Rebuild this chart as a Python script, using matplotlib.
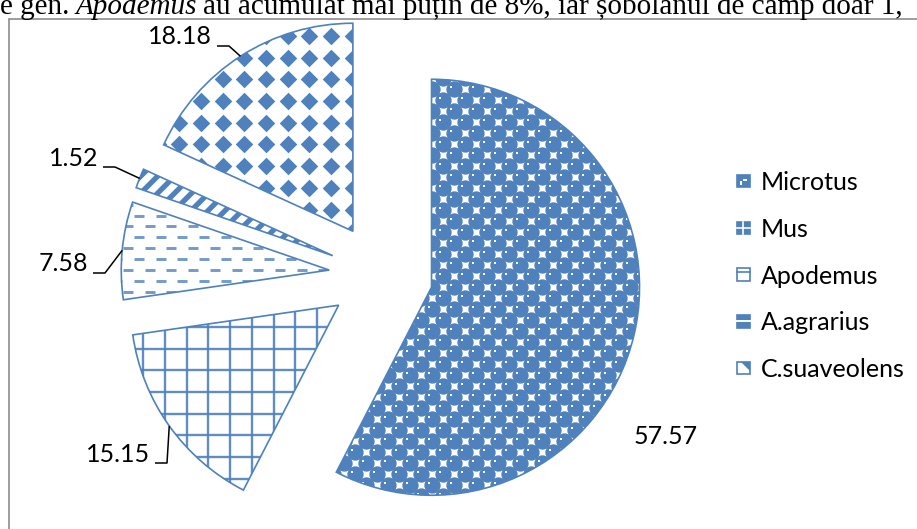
import numpy as np
import matplotlib
matplotlib.use('Agg')
import matplotlib.pyplot as plt
from matplotlib.patches import Wedge, Patch, Rectangle, Polygon
from matplotlib.lines import Line2D
from matplotlib.collections import LineCollection
from matplotlib.legend_handler import HandlerBase

# share of each genus in the sample (%)
species = ['Microtus', 'Mus', 'Apodemus', 'A.agrarius', 'C.suaveolens']
shares = [57.57, 15.15, 7.58, 1.52, 18.18]
value_labels = ['57.57', '15.15', '7.58', '1.52', '18.18']

BLUE = '#4F81BD'
W, H = 917, 529
PX = 1 / 208.0          # one pixel in data units, pie radius is 1
CX, CY = 381, 275       # pie centre in pixels
LABEL_FONT = 'Lato'


def to_data(px, py):
    return (px - CX) * PX, (CY - py) * PX


fig = plt.figure(figsize=(W / 100, H / 100), dpi=100)
ax = fig.add_axes([0, 0, 1, 1])

wedges, _ = ax.pie(shares, explode=[0.25] * len(shares), startangle=90,
                   counterclock=False, radius=1,
                   wedgeprops=dict(facecolor='white', edgecolor='none', linewidth=0))
ax.set_aspect('auto')
ax.set_xlim(-CX * PX, (W - CX) * PX)
ax.set_ylim((CY - H) * PX, CY * PX)
ax.axis('off')


def grid(step):
    n = int(1.1 / step) + 2
    k = np.arange(-n, n + 1)
    gx, gy = np.meshgrid(k, k)
    return gx.ravel(), gy.ravel()


# Microtus: blue spheres on a checker lattice
w = wedges[0]
cell = 11 * PX
gx, gy = grid(cell)
m = (gx + gy) % 2 == 0
xs = w.center[0] + gx[m] * cell
ys = w.center[1] + gy[m] * cell
sc = ax.scatter(xs, ys, s=138, marker='o', color=BLUE, linewidths=0, zorder=2)
sc.set_clip_path(w)
hl = ax.scatter(xs - 2.5 * PX, ys + 2.5 * PX, s=4, marker='s', color='white',
                linewidths=0, zorder=2)
hl.set_clip_path(w)

# Mus: square grid
w = wedges[1]
step = 21.7 * PX
k = np.arange(-12, 13)
cx, cy = w.center
segs = [[(cx + i * step, cy - 1.1), (cx + i * step, cy + 1.1)] for i in k]
segs += [[(cx - 1.1, cy + i * step), (cx + 1.1, cy + i * step)] for i in k]
lc = LineCollection(segs, colors=BLUE, linewidths=1.7, alpha=0.9, zorder=2)
ax.add_collection(lc)
lc.set_clip_path(w)

# Apodemus: dashed horizontal rows
w = wedges[2]
cx, cy = w.center
row = 10.9 * PX
period = 21.7 * PX
dash = 10 * PX
segs = []
for j in range(-100, 101):
    y = cy + j * row
    x0 = cx - 1.2 + (j % 2) * period / 2
    for i in range(int(2.4 / period) + 2):
        x = x0 + i * period
        segs.append([(x, y), (x + dash, y)])
lc = LineCollection(segs, colors=BLUE, linewidths=2.1, alpha=0.8, zorder=2)
ax.add_collection(lc)
lc.set_clip_path(w)

# A.agrarius: wide upward diagonal stripes
w = wedges[3]
cx, cy = w.center
gap = 12 * np.sqrt(2) * PX
segs = [[(cx - 1.2, cy - 1.2 + i * gap), (cx + 1.2, cy + 1.2 + i * gap)]
        for i in range(-40, 41)]
lc = LineCollection(segs, colors=BLUE, linewidths=3.8, zorder=2)
ax.add_collection(lc)
lc.set_clip_path(w)

# C.suaveolens: diamonds on a square grid
w = wedges[4]
step = 21.7 * PX
gx, gy = grid(step)
sc = ax.scatter(w.center[0] + gx * step, w.center[1] + gy * step, s=80,
                marker='D', color=BLUE, linewidths=0, zorder=2)
sc.set_clip_path(w)

# slice outlines on top of the textures
for w in wedges:
    ax.add_patch(Wedge(w.center, w.r, w.theta1, w.theta2, fill=False,
                       edgecolor=BLUE, linewidth=1.2, zorder=4))

# value labels, with leader lines for the small outer slices
label_pos = [(634, 436), (150, 454), (88, 264), (98, 158), (212, 37)]
label_ha = ['left', 'right', 'right', 'right', 'right']
for w, txt, (px, py), ha in zip(wedges, value_labels, label_pos, label_ha):
    ax.text(*to_data(px, py), txt, ha=ha, va='center', fontsize=18,
            family=LABEL_FONT, color='black', zorder=5)
    if ha == 'left':
        continue
    mid = np.deg2rad((w.theta1 + w.theta2) / 2)
    end = (w.center[0] + w.r * np.cos(mid), w.center[1] + w.r * np.sin(mid))
    sx, sy = to_data(px + 5, py + 9)
    ex = sx + 12 * PX
    ax.plot([sx, ex, end[0]], [sy, sy, end[1]], color='black', lw=1.1,
            zorder=5, solid_capstyle='butt')


class Swatch(HandlerBase):
    """small pattern squares for the legend"""

    def create_artists(self, legend, orig_handle, xdescent, ydescent,
                       width, height, fontsize, trans):
        s = min(width, height)
        x0 = -xdescent + (width - s) / 2
        y0 = -ydescent + (height - s) / 2
        kind = orig_handle.get_gid()
        dark = kind in ('sphere', 'grid', 'stripe')
        box = Rectangle((x0, y0), s, s, facecolor=BLUE if dark else 'white',
                        edgecolor=BLUE, linewidth=1.2, transform=trans)
        arts = [box]
        if kind == 'sphere':
            arts.append(Rectangle((x0 + 0.45 * s, y0 + 0.55 * s), 0.35 * s, 0.15 * s,
                                  facecolor='white', edgecolor='none', transform=trans))
            arts.append(Rectangle((x0 + 0.25 * s, y0 + 0.2 * s), 0.15 * s, 0.35 * s,
                                  facecolor='white', edgecolor='none', transform=trans))
        elif kind == 'grid':
            arts.append(Line2D([x0 + s / 2] * 2, [y0, y0 + s], color='white',
                               lw=1.2, transform=trans))
            arts.append(Line2D([x0, x0 + s], [y0 + s / 2] * 2, color='white',
                               lw=1.2, transform=trans))
        elif kind == 'dash':
            arts.append(Line2D([x0, x0 + s], [y0 + 0.7 * s] * 2, color=BLUE,
                               lw=1.2, transform=trans))
        elif kind == 'stripe':
            arts.append(Line2D([x0, x0 + s], [y0 + 0.5 * s] * 2, color='white',
                               lw=1.4, transform=trans))
        elif kind == 'diamond':
            arts.append(Polygon([(x0 + 0.3 * s, y0 + s), (x0 + s, y0 + s),
                                 (x0 + s, y0 + 0.3 * s)], closed=True,
                                facecolor=BLUE, edgecolor='none', transform=trans))
        return arts


handles = [Patch(gid=g) for g in ('sphere', 'grid', 'dash', 'stripe', 'diamond')]
ax.legend(handles, species, loc='center left',
          bbox_to_anchor=(737 / W, 1 - 276 / H), frameon=False,
          prop=dict(family=LABEL_FONT, size=18), handlelength=0.5,
          handleheight=0.5, handletextpad=0.45, labelspacing=0.95,
          borderpad=0, borderaxespad=0, handler_map={Patch: Swatch()})

# chart border
fig.add_artist(Rectangle((9 / W, -0.5), 2, 1.5 - 19 / H, fill=False,
                         edgecolor='#8C8C8C', linewidth=1.2,
                         transform=fig.transFigure))

# running text of the page above the chart
renderer = fig.canvas.get_renderer()
x = 0
for part, style in [('e gen.', 'normal'), ('Apodemus', 'italic'),
                    ('au acumulat mai puțin de 8%, iar șobolanul de câmp doar 1,', 'normal')]:
    t = fig.text(x / W, 1 - 14 / H, part, family='Liberation Serif', fontsize=21,
                 style=style, va='baseline', ha='left')
    x += t.get_window_extent(renderer).width + 6

fig.savefig('out.png', dpi=100)
